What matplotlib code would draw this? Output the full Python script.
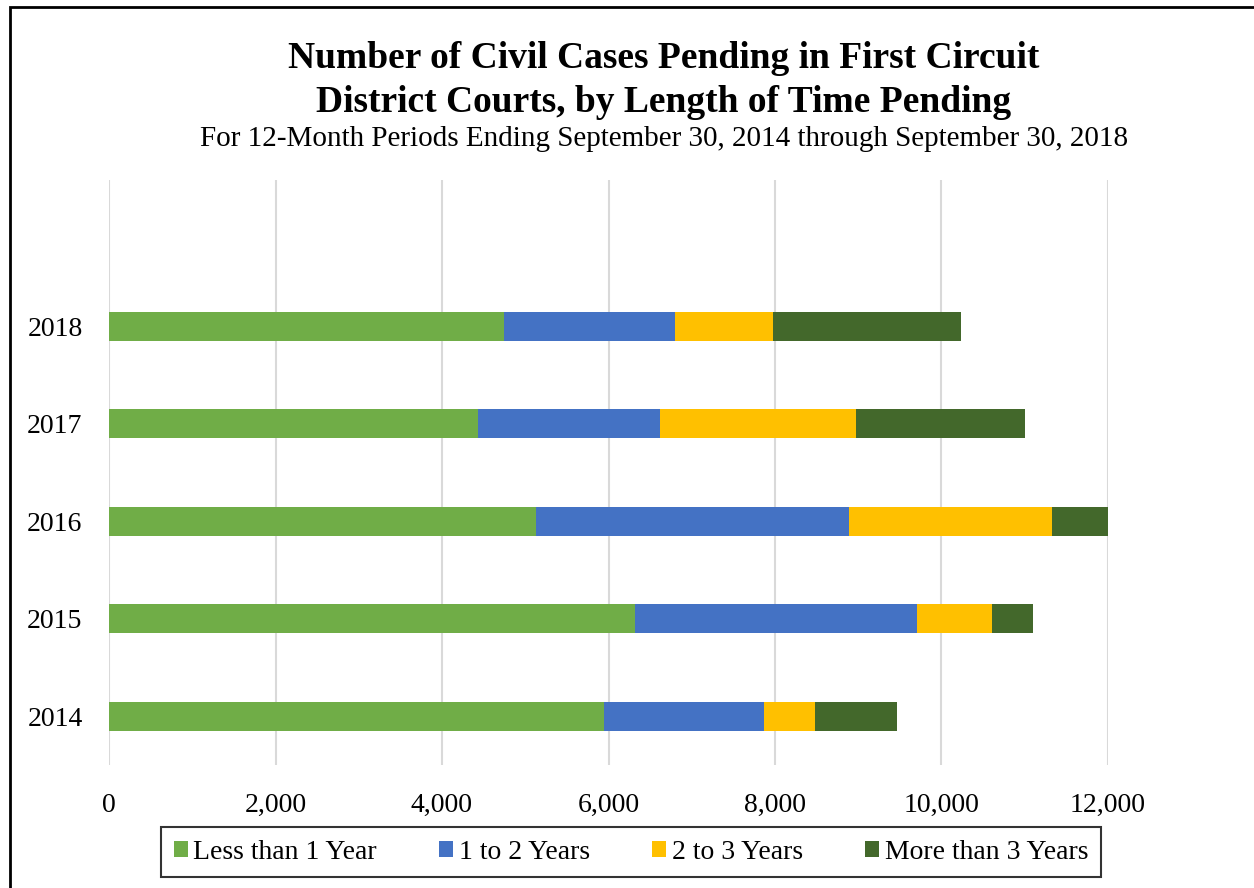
import matplotlib
matplotlib.use("Agg")
import matplotlib.pyplot as plt
from matplotlib.patches import Rectangle
import numpy as np

years = ["2014", "2015", "2016", "2017", "2018"]
series_names = ["Less than 1 Year", "1 to 2 Years", "2 to 3 Years", "More than 3 Years"]
less_1 = [5950, 6320, 5130, 4430, 4740]
one_two = [1920, 3390, 3760, 2190, 2060]
two_three = [610, 900, 2440, 2350, 1170]
more_3 = [985, 490, 680, 2030, 2270]
colors = ["#70AD47", "#4472C4", "#FFC000", "#43682B"]
xticks = [0, 2000, 4000, 6000, 8000, 10000, 12000]

plt.rcParams['font.family'] = ['Liberation Serif', 'DejaVu Serif']

fig = plt.figure(figsize=(12.54, 8.88), dpi=100)
W, H = 1254, 888
ax = fig.add_axes([109/W, 1-765/H, (1108-109)/W, (765-180)/H])

y = np.arange(len(years))
left = np.zeros(len(years))
for name, vals, c in zip(series_names, [less_1, one_two, two_three, more_3], colors):
    ax.barh(y, vals, left=left, height=0.3, color=c, label=name, zorder=3)
    left += np.array(vals)

ax.set_xlim(0, 12000)
ax.set_ylim(-0.5, 5.5)
ax.set_yticks(y)
ax.set_yticklabels(years, fontsize=20)
ax.set_xticks(xticks)
ax.set_xticklabels([f"{v:,}" for v in xticks], fontsize=20)
ax.tick_params(length=0)
ax.tick_params(axis='x', pad=20)
ax.tick_params(axis='y', pad=19)
ax.grid(axis='x', color='#d9d9d9', linewidth=1.5, zorder=0)
for s in ax.spines.values():
    s.set_visible(False)

fig.text(664/W, 1-59/H, "Number of Civil Cases Pending in First Circuit", ha='center', va='center',
         fontsize=27, fontweight='bold')
fig.text(664/W, 1-102/H, "District Courts, by Length of Time Pending", ha='center', va='center',
         fontsize=27, fontweight='bold')
fig.text(664/W, 1-139/H, "For 12-Month Periods Ending September 30, 2014 through September 30, 2018",
         ha='center', va='center', fontsize=21)

leg = fig.legend(loc='center', bbox_to_anchor=(631/W, 1-852/H), ncol=4, fontsize=20,
                 frameon=True, fancybox=False, edgecolor='black', handlelength=0.5,
                 handleheight=0.5, handletextpad=0.2, columnspacing=2.25, borderpad=0.45)
leg.get_frame().set_linewidth(1.5)

fig.patches.append(Rectangle((10/W, -0.1), 1.2, 1.1-7/H, transform=fig.transFigure,
                             fill=False, edgecolor='black', linewidth=2))

fig.savefig("out.png", dpi=100)
